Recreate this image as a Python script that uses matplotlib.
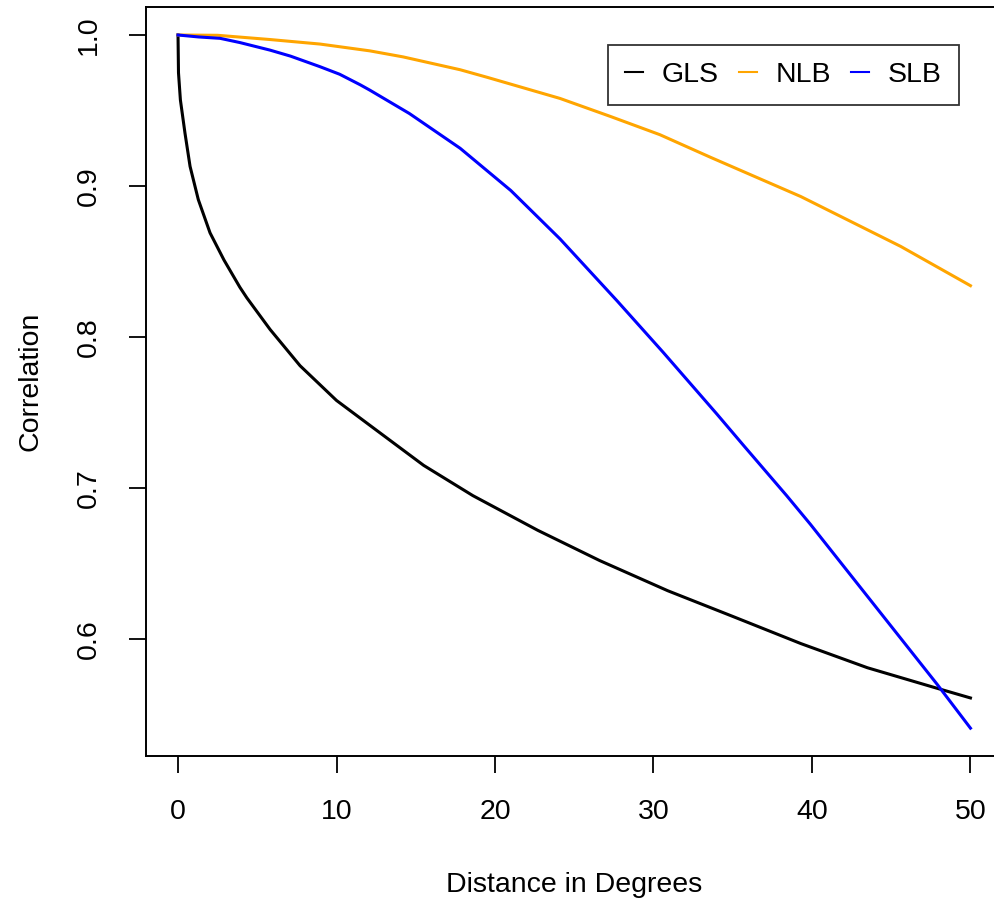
import matplotlib
matplotlib.use("Agg")
import matplotlib.pyplot as plt

plt.rcParams['font.family'] = ['Liberation Sans', 'DejaVu Sans']

# values
gls_x = [0, 0.03, 0.15, 0.44, 0.76, 1.28, 2.02, 2.9, 3.9, 4.34, 5.81, 7.7, 10.0, 12.3,
         15.5, 18.6, 22.7, 26.6, 30.9, 35.0, 39.3, 43.5, 47.7, 50.0]
gls_y = [1.0, 0.975, 0.957, 0.935, 0.913, 0.891, 0.869, 0.851, 0.833, 0.826, 0.805, 0.781,
         0.758, 0.740, 0.715, 0.695, 0.672, 0.652, 0.632, 0.615, 0.597, 0.581, 0.568, 0.561]

nlb_x = [0, 2.5, 5.8, 8.96, 12.1, 14.2, 17.8, 19.5, 24.1, 27.3, 30.4, 33.6, 39.3, 45.6, 50.0]
nlb_y = [1.0, 0.9998, 0.997, 0.994, 0.9895, 0.9855, 0.977, 0.972, 0.958, 0.946, 0.934,
         0.919, 0.893, 0.860, 0.834]

slb_x = [0, 1.3, 2.65, 3.9, 5.8, 7.1, 8.96, 10.2, 11.5, 12.1, 14.6, 17.8, 21.0, 24.1,
         27.7, 30.6, 34.0, 35.7, 38.4, 39.9, 43.9, 47.9, 50.0]
slb_y = [1.0, 0.9987, 0.9978, 0.995, 0.990, 0.986, 0.979, 0.974, 0.967, 0.9635, 0.948,
         0.925, 0.897, 0.865, 0.824, 0.790, 0.749, 0.728, 0.695, 0.676, 0.623, 0.570, 0.541]

x_ticks = [0, 10, 20, 30, 40, 50]
y_ticks = [0.6, 0.7, 0.8, 0.9, 1.0]

fs = 20.5

fig = plt.figure(figsize=(9.94, 9.01), dpi=100)
ax = fig.add_axes([0.1472, 0.161, 0.861, 0.831])

ax.plot(gls_x, gls_y, color='black', lw=2.2, label='GLS')
ax.plot(nlb_x, nlb_y, color='orange', lw=2.2, label='NLB')
ax.plot(slb_x, slb_y, color='blue', lw=2.2, label='SLB')

ax.set_xlim(-2, 52)
ax.set_ylim(0.5226, 1.0184)
ax.set_xticks(x_ticks)
ax.set_yticks(y_ticks)
ax.set_yticklabels(['%.1f' % v for v in y_ticks], rotation=90, va='center')
ax.tick_params(axis='both', direction='out', length=12.2, width=1.3, labelsize=fs)
ax.tick_params(axis='x', pad=19)
ax.tick_params(axis='y', pad=20)
for s in ax.spines.values():
    s.set_linewidth(1.4)
ax.spines['right'].set_visible(False)  # box edge falls outside the picture

ax.set_xlabel('Distance in Degrees', fontsize=fs)
ax.set_ylabel('Correlation', fontsize=fs)
ax.xaxis.set_label_coords(0.5, -0.155)
ax.yaxis.set_label_coords(-0.120, 0.5)

leg = fig.legend(loc='upper right', bbox_to_anchor=(959 / 994, 1 - 45 / 901),
                 bbox_transform=fig.transFigure, ncol=3, fontsize=fs, frameon=True,
                 fancybox=False, borderaxespad=0, handlelength=0.63, handletextpad=0.67,
                 columnspacing=0.7, borderpad=0.6)
leg.get_frame().set_edgecolor('black')
leg.get_frame().set_linewidth(1.3)
for h in leg.get_lines():
    h.set_linewidth(1.5)

fig.savefig('out.png', dpi=100)
